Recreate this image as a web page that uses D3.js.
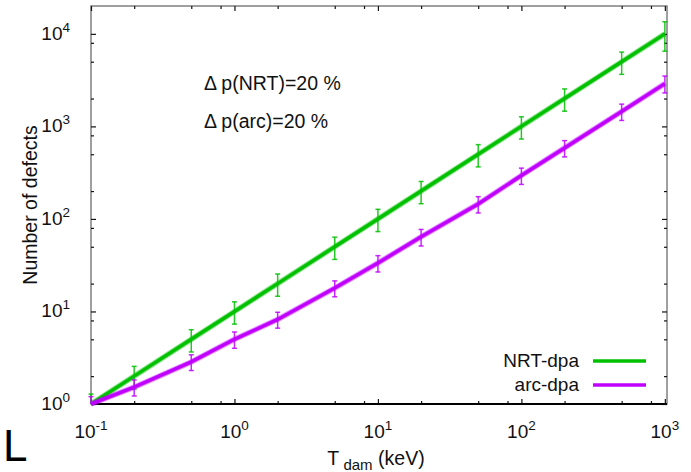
<!DOCTYPE html>
<html><head><meta charset="utf-8">
<script src="https://cdn.jsdelivr.net/npm/d3@7"></script>
<style>
body{margin:0;background:#fff;}
text{font-family:"Liberation Sans",Arial,sans-serif;}
</style></head>
<body>
<svg id="c" width="691" height="472"></svg>
<script>
const energies = [0.1, 0.2, 0.5, 1, 2, 5, 10, 20, 50, 100, 200, 500, 1000];
const nrtDpa = [1, 2, 5, 10, 20, 50, 100, 200, 500, 1000, 2000, 5000, 10000];
const nrtErr = [0.28, 0.55, 1.35, 2.7, 5.4, 13.5, 27, 54, 135, 270, 540, 1350, 3500];
const arcDpa = [1, 1.52, 2.85, 5.0, 8.2, 17.9, 33.4, 64, 145, 295, 585, 1450, 2900];
const arcErr = [0.2, 0.3, 0.55, 1.0, 1.6, 3.5, 6.7, 13, 29, 59, 117, 290, 600];
const xMajor = [0.1, 1, 10, 100, 1000];
const xMajorExp = ["-1", "0", "1", "2", "3"];
const xMinor = [0.2, 0.5, 0.8, 2, 5, 8, 20, 50, 80, 200, 500, 800];
const yMajor = [1, 10, 100, 1000, 10000];
const yMajorExp = ["0", "1", "2", "3", "4"];
const yMinor = [2, 5, 8, 20, 50, 80, 200, 500, 800, 2000, 5000, 8000];
const seriesNames = ["NRT-dpa", "arc-dpa"];
const seriesColors = ["#00c000", "#c000ff"];
const annotations = ["Δ p(NRT)=20 %", "Δ p(arc)=20 %"];

const svg = d3.select("#c");
const L = 91, R = 667, T = 6, B = 404;
const x = d3.scaleLog().domain([0.1, 1035]).range([L, R]);
const y = d3.scaleLog().domain([1, 20000]).range([B, T]);

// frame
svg.append("rect").attr("x", L).attr("y", T).attr("width", R - L).attr("height", B - T)
  .attr("fill", "none").attr("stroke", "#808080").attr("stroke-width", 1.5);

function ticks(axisGen, transform, vals, size) {
  const g = svg.append("g").attr("transform", transform)
    .call(axisGen.tickValues(vals).tickSize(size).tickFormat(""));
  g.select(".domain").remove();
  g.selectAll(".tick line").attr("stroke", "#111").attr("stroke-width", 1.2);
  return g;
}
ticks(d3.axisBottom(x), `translate(0,${B})`, xMajor, -5);
ticks(d3.axisBottom(x), `translate(0,${B})`, xMinor, -3);
ticks(d3.axisTop(x), `translate(0,${T})`, xMajor, -5);
ticks(d3.axisTop(x), `translate(0,${T})`, xMinor, -3);
ticks(d3.axisLeft(y), `translate(${L},0)`, yMajor, -5);
ticks(d3.axisLeft(y), `translate(${L},0)`, yMinor, -3);
ticks(d3.axisRight(y), `translate(${R},0)`, yMajor, -5);
ticks(d3.axisRight(y), `translate(${R},0)`, yMinor, -3);
svg.append("line").attr("x1", L).attr("x2", R).attr("y1", B).attr("y2", B)
  .attr("stroke", "#000").attr("stroke-width", 1.8);

// tick labels
const fs = 19;
xMajor.forEach((v, i) => {
  const t = svg.append("text").attr("x", x(v)).attr("y", 438).attr("text-anchor", "middle")
    .attr("font-size", fs).attr("fill", "#111");
  t.append("tspan").text("10");
  t.append("tspan").attr("dy", -8).attr("font-size", 13.5).text(xMajorExp[i]);
});
yMajor.forEach((v, i) => {
  const t = svg.append("text").attr("x", 70).attr("y", y(v) + 6).attr("text-anchor", "end")
    .attr("font-size", fs).attr("fill", "#111");
  t.append("tspan").text("10");
  t.append("tspan").attr("dy", -8).attr("font-size", 13.5).text(yMajorExp[i]);
});

// axis titles
svg.append("text").attr("transform", `translate(37,${(T + B) / 2}) rotate(-90)`)
  .attr("text-anchor", "middle").attr("font-size", 19.5).attr("fill", "#111").text("Number of defects");
const xt = svg.append("text").attr("x", 376).attr("y", 465).attr("text-anchor", "middle")
  .attr("font-size", 19.5).attr("fill", "#111");
xt.append("tspan").text("T");
xt.append("tspan").attr("dy", 5).attr("font-size", 15).text(" dam");
xt.append("tspan").attr("dy", -5).text(" (keV)");

svg.append("text").attr("x", 3).attr("y", 461).attr("font-size", 44)
  .attr("font-family", "'Liberation Sans Narrow','Liberation Sans',Arial").attr("fill", "#000").text("L");

// annotations
annotations.forEach((a, i) => {
  svg.append("text").attr("x", 204).attr("y", 90 + i * 38).attr("font-size", 19.5)
    .attr("fill", "#111").text(a);
});

// series
const line = d3.line().x((d) => x(d[0])).y((d) => y(d[1]));
[[nrtDpa, nrtErr], [arcDpa, arcErr]].forEach(([vals, errs], s) => {
  const col = seriesColors[s];
  const pts = energies.map((e, i) => [e, vals[i]]);
  const g = svg.append("g");
  energies.forEach((e, i) => {
    const lo = Math.max(1, vals[i] - errs[i]), hi = vals[i] + errs[i];
    const cx = x(e);
    g.append("line").attr("x1", cx).attr("x2", cx).attr("y1", y(lo)).attr("y2", y(hi))
      .attr("stroke", col).attr("stroke-width", 1.5).attr("opacity", 0.85);
    [lo, hi].forEach((v) => {
      if (v > 1) g.append("line").attr("x1", cx - 2.5).attr("x2", cx + 2.5).attr("y1", y(v)).attr("y2", y(v))
        .attr("stroke", col).attr("stroke-width", 1.5).attr("opacity", 0.85);
    });
  });
  g.append("path").datum(pts).attr("d", line).attr("fill", "none").attr("stroke", col)
    .attr("stroke-width", 5.5).attr("opacity", 0.45);
  g.append("path").datum(pts).attr("d", line).attr("fill", "none").attr("stroke", col)
    .attr("stroke-width", 3.5);
  // legend
  const ly = 361 + s * 24;
  svg.append("text").attr("x", 579).attr("y", ly + 6).attr("text-anchor", "end")
    .attr("font-size", fs).attr("fill", "#111").text(seriesNames[s]);
  svg.append("line").attr("x1", 593).attr("x2", 646).attr("y1", ly).attr("y2", ly)
    .attr("stroke", col).attr("stroke-width", 3.5);
});
</script>
</body></html>
